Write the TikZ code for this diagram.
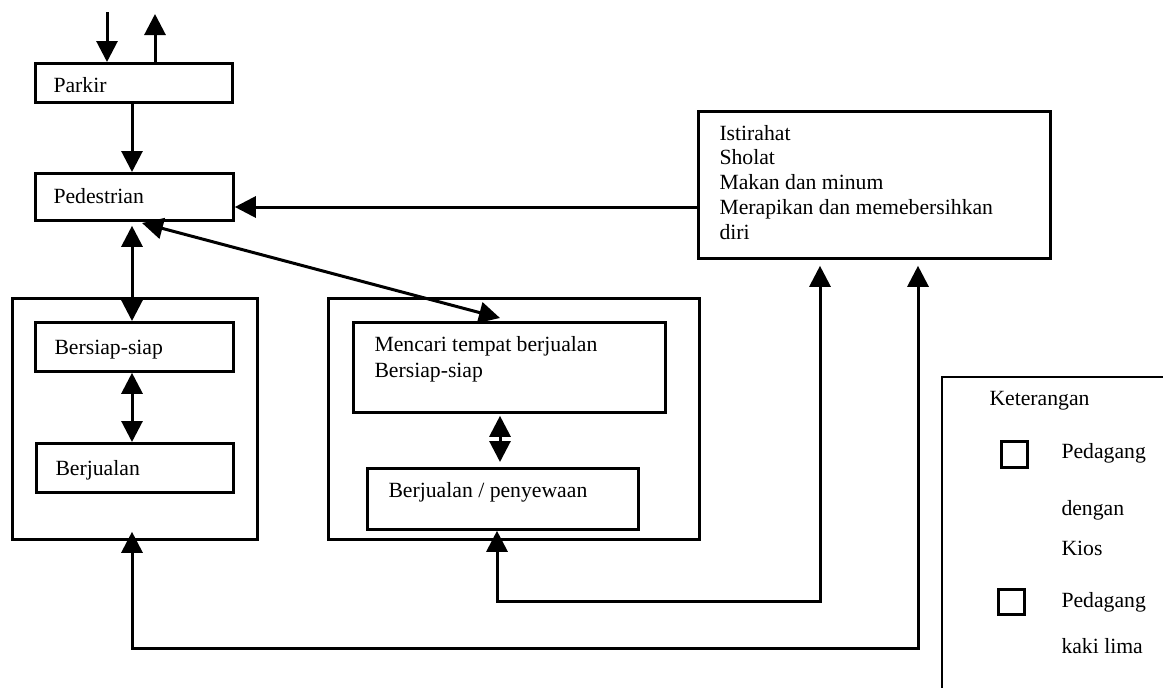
\documentclass[tikz,border=0pt]{standalone}
\usepackage{fontspec}
\setmainfont{Liberation Serif}
\usetikzlibrary{arrows.meta}
\begin{document}
\begin{tikzpicture}[x=1pt,y=-1pt,
  line width=3pt,
  box/.style={draw, line width=2.8pt, anchor=north west, inner sep=0pt},
  txt/.style={anchor=base west, inner sep=0pt, font=\fontsize{21.7}{25}\selectfont},
  arr/.style={-{Triangle[width=21pt,length=21pt]}},
  dbl/.style={{Triangle[width=21pt,length=21pt]}-{Triangle[width=21pt,length=21pt]}},
  sq/.style={draw, line width=2.8pt, anchor=north west, inner sep=0pt, minimum width=26pt, minimum height=26pt}]
\useasboundingbox (0,0) rectangle (1163,688);
\clip (0,0) rectangle (1163,688);

% column guides
\coordinate (c1) at (132,0);
\coordinate (c2) at (820,0);
\coordinate (c3) at (497,0);
\coordinate (c4) at (918,0);
\coordinate (cm) at (500,0);
\coordinate (rowR) at (0,207);
\coordinate (rowA) at (0,601);
\coordinate (rowB) at (0,648);

% boxes
\node[box, minimum width=197pt, minimum height=39pt] (parkir) at (34,62) {};
\node[box, minimum width=198pt, minimum height=47pt] (pedestrian) at (34,172) {};
\node[box, minimum width=352pt, minimum height=147pt] (rest) at (697,110) {};
\node[box, minimum width=245pt, minimum height=241pt] (outerL) at (11,297) {};
\node[box, minimum width=198pt, minimum height=49pt] (siap) at (34,321) {};
\node[box, minimum width=197pt, minimum height=49pt] (jual) at (35,442) {};
\node[box, minimum width=371pt, minimum height=241pt] (outerM) at (327,297) {};
\node[box, minimum width=312pt, minimum height=90pt] (cari) at (352,321) {};
\node[box, minimum width=271pt, minimum height=61pt] (sewa) at (366,467) {};

% texts
\node[txt] (tParkir) at (52,92) {Parkir};
\node[txt] (tPed) at (52,203) {Pedestrian};
\node[txt] (tR1) at (718,140) {Istirahat};
\node[txt] (tR2) at (718,164) {Sholat};
\node[txt] (tR3) at (718,189) {Makan dan minum};
\node[txt] (tR4) at (718,214) {Merapikan dan memebersihkan};
\node[txt] (tR5) at (718,239) {diri};
\node[txt] (tSiap) at (53,354) {Bersiap-siap};
\node[txt] (tJual) at (54,475) {Berjualan};
\node[txt] (tCari1) at (373,351) {Mencari tempat berjualan};
\node[txt] (tCari2) at (373,377) {Bersiap-siap};
\node[txt] (tSewa) at (387,497) {Berjualan / penyewaan};

% legend
\draw[line width=2.8pt] (1170,377) -- (942,377) -- (942,695);
\node[txt] (tKet) at (988,405) {Keterangan};
\node[sq] (sq1) at (1000,440) {};
\node[txt] (tL1) at (1060,458) {Pedagang};
\node[txt] (tL2) at (1060,515) {dengan};
\node[txt] (tL3) at (1060,555) {Kios};
\node[sq, minimum height=25pt] (sq2) at (997,588) {};
\node[txt] (tL4) at (1060,607) {Pedagang};
\node[txt] (tL5) at (1060,653) {kaki lima};

% connectors
\coordinate (inTop) at (107,12);
\coordinate (outTop) at (155,14);
\draw[arr] (inTop) -- (parkir.north -| inTop);
\draw[arr] (parkir.north -| outTop) -- (outTop);
\draw[arr] (parkir.south -| c1) -- (pedestrian.north -| c1);
\draw[arr] (rest.west |- rowR) -- (pedestrian.east |- rowR);
\draw[dbl, shorten <=4pt] (pedestrian.south -| c1) -- (siap.north -| c1);
\draw[dbl] (siap.south -| c1) -- (jual.north -| c1);
\coordinate (dA) at (142,223);
\coordinate (dB) at (500,318);
\draw[dbl] (dA) -- (dB);
\draw[dbl, shorten <=2pt, shorten >=5pt] (cari.south -| cm) -- (sewa.north -| cm);
\draw[dbl, shorten <=-9pt, shorten >=6pt] (outerL.south -| c1) |- (c4 |- rowB) -- (rest.south -| c4);
\draw[dbl, shorten >=6pt] (sewa.south -| c3) |- (c2 |- rowA) -- (rest.south -| c2);
\end{tikzpicture}
\end{document}
